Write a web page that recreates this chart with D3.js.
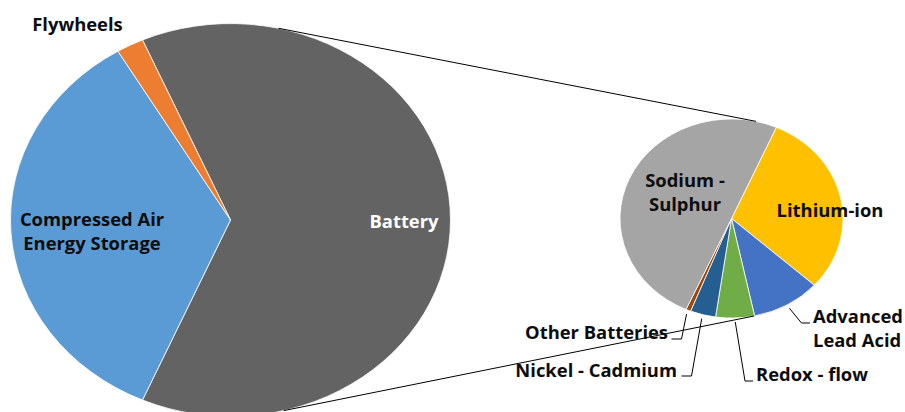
<!DOCTYPE html>
<html>
<head>
<meta charset="utf-8">
<script src="https://cdn.jsdelivr.net/npm/d3@7"></script>
<style>
  body { margin: 0; background: #fff; }
  text { font-family: "Open Sans", sans-serif; font-weight: bold; font-size: 18.4px; }
</style>
</head>
<body>
<div id="chart"></div>
<script>
// first pie: share of storage types (%)
const mainLabels = ["Battery", "Compressed Air Energy Storage", "Flywheels"];
const mainValues = [63.1, 34.9, 2.0];
const mainColors = ["#636363", "#5b9bd5", "#ed7d31"];

// second pie: split of the battery slice (% of battery), clockwise from Lithium-ion
const batteryLabels = ["Lithium-ion", "Advanced Lead Acid", "Redox - flow", "Nickel - Cadmium", "Other Batteries", "Sodium - Sulphur"];
const batteryValues = [30.1, 10.0, 5.6, 3.7, 0.7, 49.9];
const batteryColors = ["#ffc000", "#4472c4", "#70ad47", "#255e91", "#9e480e", "#a5a5a5"];

const width = 905, height = 412;
const squash = 0.893; // the picture is a bit wider than tall
const deg = Math.PI / 180;

const big = {cx: 230.5, cy: 220, r: 220};
const small = {cx: 731.5, cy: 218.5, r: 111.5};

const svg = d3.select("#chart").append("svg")
  .attr("width", width)
  .attr("height", height);

function pt(p, angle, k) {
  return [p.cx + p.r * k * Math.sin(angle), p.cy - p.r * k * Math.cos(angle) * squash];
}

function drawPie(p, values, colors, start) {
  const arcs = d3.pie().sort(null).startAngle(start).endAngle(start + 2 * Math.PI)(values);
  const arc = d3.arc().innerRadius(0).outerRadius(p.r);
  svg.append("g")
    .attr("transform", `translate(${p.cx},${p.cy}) scale(1,${squash})`)
    .selectAll("path")
    .data(arcs)
    .join("path")
    .attr("d", arc)
    .attr("fill", (d, i) => colors[i])
    .attr("stroke", "#fff")
    .attr("stroke-width", 0.8)
    .attr("vector-effect", "non-scaling-stroke");
  return arcs;
}

// battery slice is centred on the right, like Excel's pie of pie
const batteryShare = mainValues[0] / d3.sum(mainValues);
const mainArcs = drawPie(big, mainValues, mainColors, Math.PI / 2 - batteryShare * Math.PI);
const batArcs = drawPie(small, batteryValues, batteryColors, 23.7 * deg);

// series lines between the two pies
const joins = [[12.6, 12.7], [166, 168.2]];
svg.append("g")
  .attr("stroke", "#000")
  .attr("stroke-width", 1)
  .selectAll("line")
  .data(joins)
  .join("line")
  .attr("x1", d => pt(big, d[0] * deg, 1)[0])
  .attr("y1", d => pt(big, d[0] * deg, 1)[1])
  .attr("x2", d => pt(small, d[1] * deg, 1)[0])
  .attr("y2", d => pt(small, d[1] * deg, 1)[1]);

// label placement
const labelPos = {
  "Battery": {x: 404, y: 228, anchor: "middle", fill: "#fff", lines: ["Battery"]},
  "Compressed Air Energy Storage": {x: 92, y: 226, anchor: "middle", lines: ["Compressed Air", "Energy Storage"]},
  "Flywheels": {x: 77.5, y: 31, anchor: "middle", lines: ["Flywheels"]},
  "Sodium - Sulphur": {x: 685, y: 187, anchor: "middle", lines: ["Sodium -", "Sulphur"]},
  "Lithium-ion": {x: 830, y: 216.5, anchor: "middle", lines: ["Lithium-ion"]},
  "Advanced Lead Acid": {x: 813, y: 323, anchor: "start", lines: ["Advanced", "Lead Acid"], elbow: [801.5, 323], end: 810},
  "Redox - flow": {x: 756, y: 381, anchor: "start", lines: ["Redox - flow"], elbow: [745, 381], end: 753},
  "Nickel - Cadmium": {x: 677, y: 376.5, anchor: "end", lines: ["Nickel - Cadmium"], elbow: [691.5, 376], end: 681.5},
  "Other Batteries": {x: 668, y: 338.5, anchor: "end", lines: ["Other Batteries"], elbow: [681.5, 339], end: 671.5}
};

function drawLabels(p, arcs, labels) {
  arcs.forEach((a, i) => {
    const L = labelPos[labels[i]];
    if (L.elbow) {
      const mid = (a.startAngle + a.endAngle) / 2;
      const s = pt(p, mid, 1.04);
      svg.append("path")
        .attr("d", d3.line()([s, L.elbow, [L.end, L.elbow[1]]]))
        .attr("fill", "none")
        .attr("stroke", "#000")
        .attr("stroke-width", 1);
    }
    const t = svg.append("text")
      .attr("x", L.x)
      .attr("y", L.y)
      .attr("text-anchor", L.anchor)
      .attr("fill", L.fill || "#0d0d0d");
    L.lines.forEach((s, j) => {
      t.append("tspan").attr("x", L.x).attr("dy", j ? 23.5 : 0).text(s);
    });
  });
}

drawLabels(big, mainArcs, mainLabels);
drawLabels(small, batArcs, batteryLabels);
</script>
</body>
</html>
